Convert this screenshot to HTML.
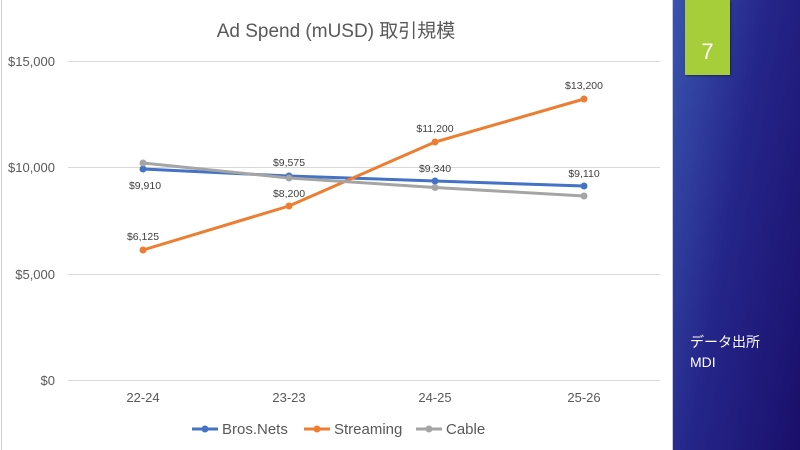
<!DOCTYPE html>
<html><head><meta charset="utf-8"><style>
body{margin:0;width:800px;height:450px;overflow:hidden;background:#fff;font-family:"Liberation Sans","Noto Sans CJK JP",sans-serif}
.panel{position:absolute;left:672px;top:0;width:128px;height:450px;background:linear-gradient(100deg,#3a54b0 0%,#25268a 45%,#1a0f6a 100%);border-left:1px solid #ccc}
.box{position:absolute;left:685px;top:0;width:45px;height:75px;background:#a6cd3a;box-shadow:1px 1px 2px rgba(0,0,0,.4);color:#fff;font-size:22px;text-align:center;line-height:104px}
.src{position:absolute;left:690px;top:332px;color:#fff;font-size:14px;line-height:20px}
</style></head><body>
<div style="position:absolute;left:1px;top:0;width:1px;height:450px;background:#ccc"></div>
<svg width="672" height="450" style="position:absolute;left:0;top:0" font-family="Liberation Sans, Noto Sans CJK JP, sans-serif">
<text x="336" y="37" font-size="19" fill="#595959" text-anchor="middle">Ad Spend (mUSD) 取引規模</text>
<g stroke="#d9d9d9" stroke-width="1">
<line x1="68" x2="660" y1="61.5" y2="61.5"/><line x1="68" x2="660" y1="167.5" y2="167.5"/><line x1="68" x2="660" y1="274.5" y2="274.5"/><line x1="68" x2="660" y1="380.5" y2="380.5"/></g>
<g font-size="13" fill="#595959" text-anchor="end">
<text x="55" y="66">$15,000</text><text x="55" y="172">$10,000</text><text x="55" y="279">$5,000</text><text x="55" y="385">$0</text></g>
<g font-size="13" fill="#595959" text-anchor="middle">
<text x="143" y="402">22-24</text><text x="289" y="402">23-23</text><text x="435" y="402">24-25</text><text x="584" y="402">25-26</text></g>
<g fill="none" stroke-width="3">
<polyline stroke="#4472c4" points="143,169 289,176 435,181 584,186"/>
<polyline stroke="#ed7d31" points="143,250 289,206 435,142 584,99"/>
<polyline stroke="#a5a5a5" points="143,163 289,178 435,187.5 584,196"/></g>
<g fill="#4472c4"><circle cx="143" cy="169" r="3.5"/><circle cx="289" cy="176" r="3.5"/><circle cx="435" cy="181" r="3.5"/><circle cx="584" cy="186" r="3.5"/></g>
<g fill="#ed7d31"><circle cx="143" cy="250" r="3.5"/><circle cx="289" cy="206" r="3.5"/><circle cx="435" cy="142" r="3.5"/><circle cx="584" cy="99" r="3.5"/></g>
<g fill="#a5a5a5"><circle cx="143" cy="163" r="3.5"/><circle cx="289" cy="178" r="3.5"/><circle cx="435" cy="187.5" r="3.5"/><circle cx="584" cy="196" r="3.5"/></g>
<g font-size="10.5" fill="#404040" text-anchor="middle">
<text x="145" y="189">$9,910</text><text x="289" y="166">$9,575</text><text x="435" y="172">$9,340</text><text x="584" y="177">$9,110</text>
<text x="143" y="240">$6,125</text><text x="289" y="197">$8,200</text><text x="435" y="132">$11,200</text><text x="584" y="89">$13,200</text></g>
<g font-size="15" fill="#595959">
<line x1="192" x2="218" y1="429" y2="429" stroke="#4472c4" stroke-width="3"/><circle cx="205" cy="429" r="3.5" fill="#4472c4"/><text x="222" y="434">Bros.Nets</text>
<line x1="304" x2="330" y1="429" y2="429" stroke="#ed7d31" stroke-width="3"/><circle cx="317" cy="429" r="3.5" fill="#ed7d31"/><text x="334" y="434">Streaming</text>
<line x1="416" x2="442" y1="429" y2="429" stroke="#a5a5a5" stroke-width="3"/><circle cx="429" cy="429" r="3.5" fill="#a5a5a5"/><text x="446" y="434">Cable</text></g>
</svg>
<div class="panel"></div>
<div class="box">7</div>
<div class="src">データ出所<br>MDI</div>
</body></html>
